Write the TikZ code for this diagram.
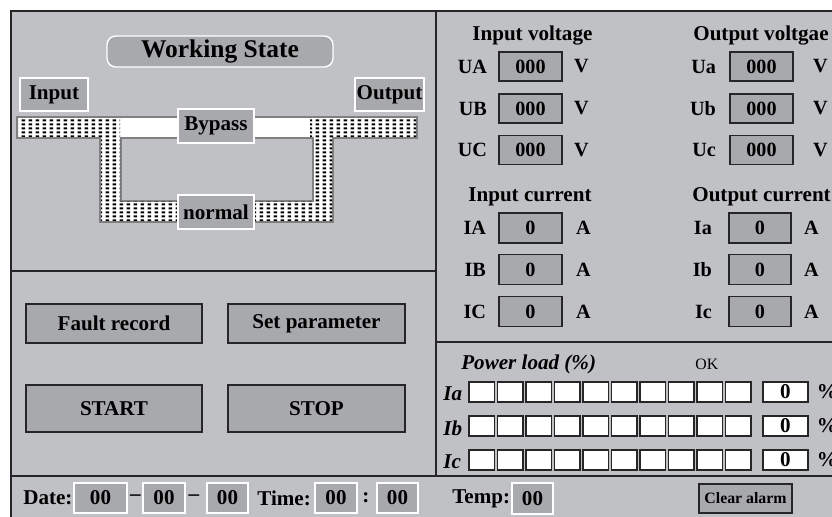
\documentclass[tikz,border=0pt]{standalone}
\usepackage{fontspec}
\setmainfont{Liberation Serif}
\usetikzlibrary{patterns.meta,positioning}

\definecolor{panelgray}{RGB}{192,193,196}
\definecolor{keygray}{RGB}{168,169,172}
\definecolor{edgegray}{RGB}{38,38,38}
\definecolor{railgray}{RGB}{128,128,128}

\newcommand{\tagfont}{\fontsize{12}{14}\selectfont\bfseries}
\newcommand{\readfont}{\fontsize{11.5}{13}\selectfont\bfseries}
\newcommand{\titlefont}{\fontsize{14.5}{17}\selectfont\bfseries}
\newcommand{\smallfont}{\fontsize{9}{11}\selectfont}

\tikzdeclarepattern{
  name=pinholes,
  type=uncolored,
  bounding box={(0pt,0pt) and (4pt,2.1pt)},
  tile size={(4pt,2.1pt)},
  code={\fill (0.4pt,0.45pt) rectangle (2.6pt,1.65pt);}
}

\tikzset{
  panel/.style={draw=edgegray, line width=1.1pt},
  keybox/.style={draw=white, fill=keygray, line width=0.8pt,
    inner sep=0pt, font=\tagfont},
  button/.style={draw=edgegray, fill=keygray, line width=0.8pt,
    inner sep=0pt, font=\tagfont},
  readout/.style={draw=edgegray, fill=keygray, line width=0.8pt,
    inner sep=0pt, minimum width=1.26cm, minimum height=0.58cm,
    font=\readfont},
  cell/.style={draw=edgegray, fill=white, line width=0.7pt,
    inner sep=0pt, minimum width=0.51cm, minimum height=0.4cm},
  tag/.style={inner sep=0pt, font=\tagfont},
  rail/.style={fill=white, draw=railgray, line width=0.6pt},
  holes/.style={pattern=pinholes, pattern color=black}
}

\begin{document}
\begin{tikzpicture}[x=0.02cm, y=-0.02cm]
      \useasboundingbox (0,0) rectangle (832,517);
      % Panels
      \fill[panelgray] (11,11) rectangle (850,535);
      \draw[panel] (11,11) rectangle (850,535);
      \draw[panel] (436,11) -- (436,476)
        (11,271) -- (436,271)
        (436,342) -- (850,342)
        (11,476) -- (850,476);

      % Working state: bypass rail and normal loop
      \filldraw[rail, even odd rule]
        (17,117) -- (417,117) -- (417,138) -- (333,138) -- (333,222)
        -- (100,222) -- (100,138) -- (17,138) -- cycle
        (121,138) rectangle (313,201);
      \fill[holes] (18,118) rectangle (120,137)
        (310,118) rectangle (416,137)
        (101,137) rectangle (120,201)
        (314,137) rectangle (332,201)
        (101,201) rectangle (332,221);

      \node[keybox,
        rounded corners=5pt,
        minimum width=4.52cm,
        minimum height=0.62cm,
        font=\titlefont] (state) at (220,51.5) {Working State};
      \node[keybox,
        minimum width=1.36cm,
        minimum height=0.66cm] (input) at (54,94.5) {Input};
      \node[keybox,
        minimum width=1.38cm,
        minimum height=0.66cm] (output) at (389.5,94.5) {Output};
      \node[keybox,
        minimum width=1.52cm,
        minimum height=0.68cm] (bypass) at (216,126) {Bypass};
      \node[keybox,
        minimum width=1.52cm,
        minimum height=0.68cm] (normal) at (216,212) {normal};

      % Buttons
      \node[button,
        minimum width=3.52cm,
        minimum height=0.78cm] (fault) at (114,323.5) {Fault record};
      \node[button,
        minimum width=3.54cm,
        minimum height=0.78cm] (setpar) at (316.5,323.5) {Set parameter};
      \node[button,
        minimum width=3.52cm,
        minimum height=0.94cm] (start) at (114,408.5) {START};
      \node[button,
        minimum width=3.54cm,
        minimum height=0.94cm] (stop) at (316.5,408.5) {STOP};

      % Date and time
      \node[tag, anchor=west] (date) at (23,498) {Date:};
      \node[keybox, minimum width=1.06cm, minimum height=0.6cm] (day) at (100.5,498) {00};
      \node[tag] (dashA) at (135.5,498) {--};
      \node[keybox, minimum width=0.84cm, minimum height=0.6cm] (month) at (164,498) {00};
      \node[tag] (dashB) at (194,498) {--};
      \node[keybox, minimum width=0.82cm, minimum height=0.6cm] (year) at (227.5,498) {00};
      \node[tag, anchor=west] (time) at (257,498) {Time:};
      \node[keybox, minimum width=0.84cm, minimum height=0.6cm] (hour) at (336,498) {00};
      \node[tag] (colon) at (366,498) {:};
      \node[keybox, minimum width=0.82cm, minimum height=0.6cm] (minute) at (397.5,498) {00};
      \node[tag, anchor=west] (temp) at (452,498.5) {Temp:};
      \node[keybox, minimum width=0.82cm, minimum height=0.62cm] (tempval) at (532.5,498.5) {00};
      \node[button,
        minimum width=1.86cm,
        minimum height=0.58cm,
        font=\fontsize{9}{11}\selectfont\bfseries] (clear) at (745.5,498.5) {Clear alarm};

      % Voltages
      \node[tag, anchor=base west] (involt) at (472,40.5) {Input voltage};
      \node[tag, anchor=base west] (outvolt) at (693,40.5) {Output voltgae};
      \foreach \lab/\yc in {A/66.5, B/108.5, C/150} {
        \node[readout] (inU\lab) at (530.5,\yc) {000};
        \node[tag, font=\readfont, left=0.22cm of inU\lab] (inU\lab-name) {U\lab};
        \node[tag, font=\readfont, right=0.22cm of inU\lab] (inU\lab-unit) {V};
      }
      \foreach \lab/\yc in {a/66.5, b/108.5, c/150} {
        \node[readout] (outU\lab) at (761.5,\yc) {000};
        \node[tag, font=\readfont, left=0.26cm of outU\lab] (outU\lab-name) {U\lab};
        \node[tag, font=\readfont, right=0.38cm of outU\lab] (outU\lab-unit) {V};
      }

      % Currents
      \node[tag, anchor=base west] (incurr) at (468,201.5) {Input current};
      \node[tag, anchor=base west] (outcurr) at (692,201.5) {Output current};
      \foreach \lab/\yc in {A/228, B/269.5, C/311.5} {
        \node[readout, minimum height=0.6cm] (inI\lab) at (530.5,\yc) {0};
        \node[tag, font=\readfont, left=0.24cm of inI\lab] (inI\lab-name) {I\lab};
        \node[tag, font=\readfont, right=0.26cm of inI\lab] (inI\lab-unit) {A};
      }
      \foreach \lab/\yc in {a/228, b/269.5, c/311.5} {
        \node[readout, minimum width=1.24cm, minimum height=0.6cm] (outI\lab) at (760,\yc) {0};
        \node[tag, font=\readfont, left=0.32cm of outI\lab] (outI\lab-name) {I\lab};
        \node[tag, font=\readfont, right=0.24cm of outI\lab] (outI\lab-unit) {A};
      }

      % Power load
      \node[tag, font=\tagfont\itshape, anchor=base west] (load) at (461,369) {Power load (\%)};
      \node[tag, font=\smallfont, anchor=base west] (ok) at (695,369) {OK};
      \foreach \lab/\yc [count=\k] in {Ia/392, Ib/426, Ic/460} {
        \node[tag, font=\tagfont\itshape, anchor=west] (phase\k) at (443,\yc+2) {\lab};
        \foreach \i in {0,...,9}
          \node[cell] (bar\k-\i) at ({481.75+28.5*\i},\yc) {};
        \node[cell, minimum width=0.9cm, font=\tagfont] (pct\k) at (785.5,\yc) {0};
        \node[tag, right=0.16cm of pct\k] (sign\k) {\%};
      }
\end{tikzpicture}
\end{document}
